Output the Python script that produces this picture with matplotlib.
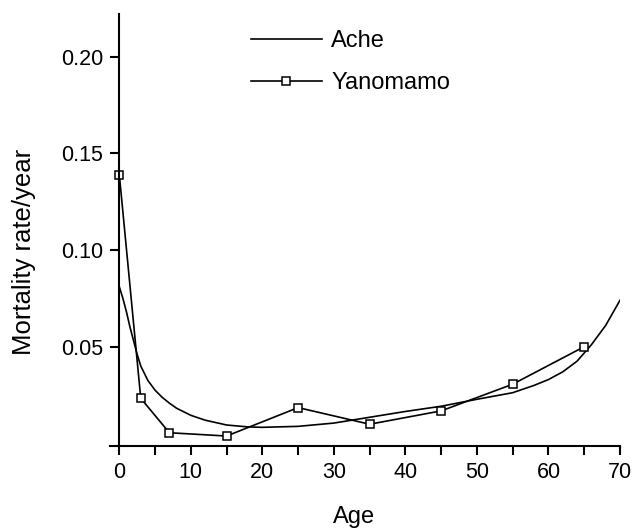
import matplotlib
matplotlib.use('Agg')
import matplotlib.pyplot as plt

plt.rcParams['font.family'] = ['Liberation Sans', 'DejaVu Sans']

# Ache: smooth fitted curve at many ages
ache_age = [0, 0.5, 1, 1.5, 2, 2.5, 3, 4, 5, 6, 7, 8, 10, 12, 15, 18, 20, 25,
            30, 35, 40, 45, 50, 55, 58, 60, 62, 64, 66, 68, 70]
ache_rate = [0.081, 0.075, 0.068, 0.060, 0.053, 0.046, 0.040, 0.0325, 0.0275,
             0.0238, 0.0208, 0.0182, 0.0145, 0.012, 0.0095, 0.0085, 0.0083,
             0.0088, 0.0105, 0.0135, 0.0165, 0.0192, 0.0228, 0.0262, 0.030,
             0.033, 0.037, 0.0425, 0.051, 0.061, 0.074]

# Yanomamo: observed points
yano_age = [0, 3, 7, 15, 25, 35, 45, 55, 65]
yano_rate = [0.139, 0.0233, 0.0055, 0.0038, 0.0185, 0.0099, 0.0168, 0.0306, 0.050]

x_ticks = [0, 10, 20, 30, 40, 50, 60, 70]
y_ticks = [0.05, 0.10, 0.15, 0.20]

fig = plt.figure(figsize=(6.37, 5.29), dpi=100)
ax = fig.add_axes([110 / 637, 1 - 445.7 / 529, 510 / 637, 431.7 / 529])

ax.plot(ache_age, ache_rate, color='black', lw=1.2, label='Ache')
ax.plot(yano_age, yano_rate, color='black', lw=1.2, marker='s', ms=5.5,
        mfc='white', mec='black', mew=1.1, label='Yanomamo')

ax.set_xlim(-1.3, 70)
ax.set_ylim(-0.0012, 0.222)

ax.spines['top'].set_visible(False)
ax.spines['right'].set_visible(False)
ax.spines['left'].set_position(('data', 0))
for side in ['left', 'bottom']:
    ax.spines[side].set_linewidth(1.5)

ax.set_xticks(x_ticks)
ax.set_xticks(range(5, 70, 10), minor=True)
ax.set_yticks(y_ticks)
ax.set_yticklabels(['{:.2f}'.format(v) for v in y_ticks])
ax.tick_params(axis='both', which='both', direction='out', length=6.5,
               width=1.5, labelsize=15.5, pad=5)

ax.set_xlabel('Age', fontsize=17)
ax.xaxis.set_label_coords(0.478, -0.139)
ax.set_ylabel('Mortality rate/year', fontsize=18.5)
ax.yaxis.set_label_coords(-0.145, 0.449)

ax.legend(loc='upper left', bbox_to_anchor=(251 / 637, 1 - 30 / 529),
          bbox_transform=fig.transFigure, frameon=False, fontsize=17,
          handlelength=3.0, handletextpad=0.4, labelspacing=0.85,
          borderpad=0, borderaxespad=0, numpoints=1)

fig.savefig('out.png', dpi=100)
